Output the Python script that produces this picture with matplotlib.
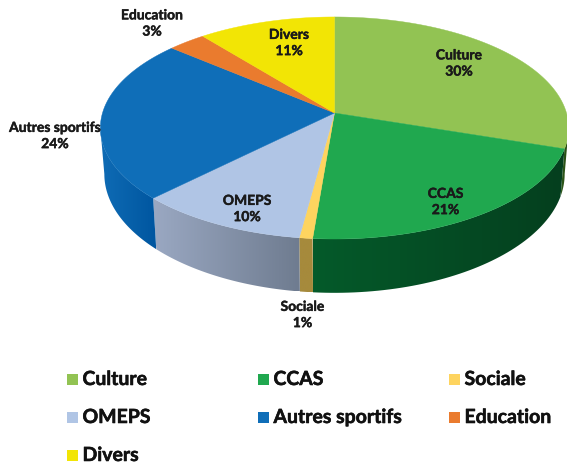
import numpy as np
import matplotlib
matplotlib.use('Agg')
import matplotlib.pyplot as plt
import matplotlib.patheffects as pe
from matplotlib.patches import Rectangle, Polygon
from matplotlib.colors import to_rgb

# Values (labels round them)
categories = ['Culture', 'CCAS', 'Sociale', 'OMEPS', 'Autres sportifs', 'Education', 'Divers']
values = [30.1, 21.2, 0.8, 10.4, 23.7, 3.0, 10.8]
colors = ['#92c353', '#20a84f', '#fed45f', '#b0c5e5', '#0f6eb8', '#ea7b2e', '#f2e505']
side_left = ['#2f5a1c', '#045a2a', '#a68a3c', '#9aa8c2', '#0f6cb5', '#a0521c', '#a09a00']
side_right = ['#24470f', '#043f1e', '#a68a3c', '#6f7c90', '#0056a0', '#a0521c', '#a09a00']

plt.rcParams['font.family'] = ['Lato', 'DejaVu Sans']

fig = plt.figure(figsize=(5.67, 4.63), dpi=100)
ax = fig.add_axes([0, 0, 1, 1])
ax.set_xlim(0, 567)
ax.set_ylim(463, 0)
ax.axis('off')

# Tilted disc: apex sits above the middle of the ellipse
cx, cy = 334.5, 113
a, b, k = 232, 109, 0.135
drop, shrink_x, stretch_y = 45, 0.983, 1.07


def project(theta):
    den = 1 + k * np.cos(theta)
    return cx + a * np.sin(theta) / den, cy - b * np.cos(theta) / den


edges = np.deg2rad(np.cumsum([0] + values) * 3.6)
# wall runs between the widest points of the ellipse
wall_start = np.arccos(-k)
wall_end = 2 * np.pi - wall_start

# Side wall, drawn before the top
for i in range(len(values)):
    t = np.linspace(max(edges[i], wall_start), min(edges[i + 1], wall_end), 60)
    if t[-1] <= t[0]:
        continue
    x1, y1 = project(t)
    x2 = cx + (x1 - cx) * shrink_x
    y2 = cy + (y1 - cy) * stretch_y + drop
    px, py = np.r_[x1, x2[::-1]], np.r_[y1, y2[::-1]]
    # horizontal gradient clipped to the wall piece
    grad = np.linspace(to_rgb(side_left[i]), to_rgb(side_right[i]), 64)[np.newaxis, :, :]
    im = ax.imshow(grad, extent=[px.min(), px.max(), py.max(), py.min()], aspect='auto', zorder=1)
    wall = Polygon(np.c_[px, py], closed=True, fc='none', ec='none', transform=ax.transData)
    ax.add_patch(wall)
    im.set_clip_path(wall)
ax.set_xlim(0, 567)
ax.set_ylim(463, 0)

# Top face
for i in range(len(values)):
    t = np.linspace(edges[i], edges[i + 1], 80)
    x, y = project(t)
    ax.fill(np.r_[cx, x], np.r_[cy, y], color=colors[i], lw=0.3, zorder=2)

# Data labels
label_x = [459, 445.5, 302.5, 247, 55, 152, 289]
label_y = [63.5, 202, 315, 209, 136, 23.5, 43]
for name, v, lx, ly in zip(categories, values, label_x, label_y):
    ax.text(lx, ly, f'{name}\n{round(v)}%', ha='center', va='center', fontsize=10,
            fontweight='bold', color='#1a1a1a', linespacing=1.42, zorder=3,
            path_effects=[pe.withStroke(linewidth=0.3, foreground='#1a1a1a')])

# Legend, filled row by row
leg_x = [67, 258, 449]
leg_y = [379, 417, 455]
for i, (name, c) in enumerate(zip(categories, colors)):
    lx, ly = leg_x[i % 3], leg_y[i // 3]
    ax.add_patch(Rectangle((lx, ly - 5.5), 11, 11, color=c, lw=0))
    ax.text(lx + 15.5, ly + 0.5, name, ha='left', va='center', fontsize=14, fontweight='bold',
            color='#111111', path_effects=[pe.withStroke(linewidth=0.4, foreground='#111111')])

fig.savefig('out.png', dpi=100)
